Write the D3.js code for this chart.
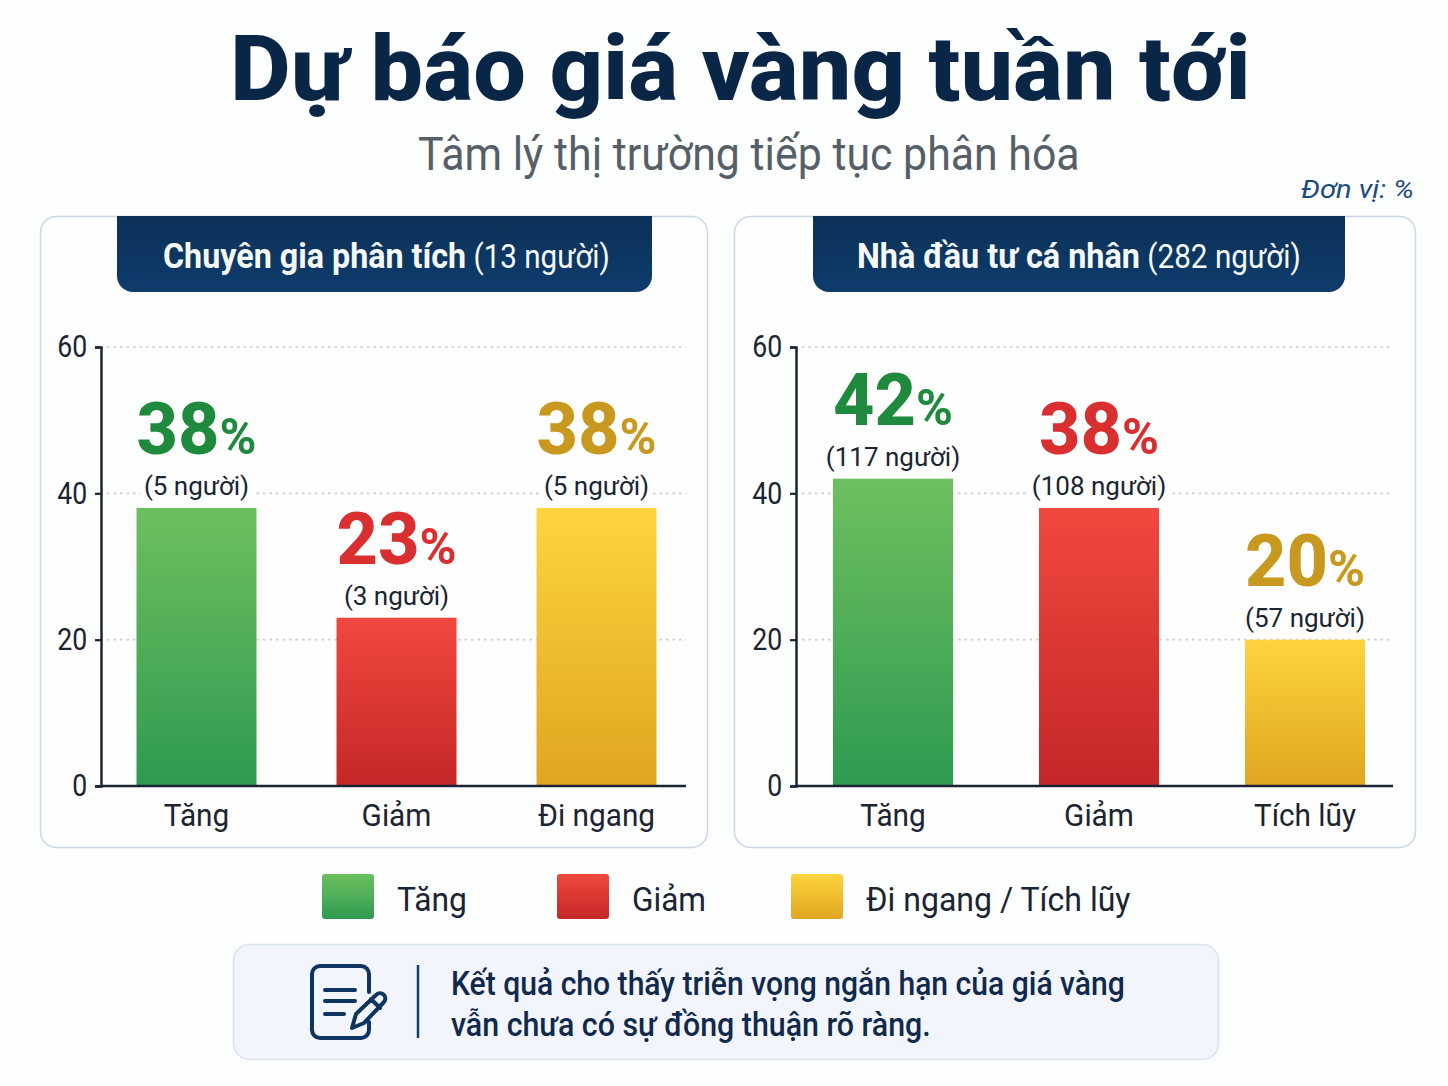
<!DOCTYPE html>
<html lang="vi">
<head>
<meta charset="utf-8">
<title>Dự báo giá vàng tuần tới</title>
<script src="https://cdn.jsdelivr.net/npm/d3@7/dist/d3.min.js"></script>
<style>
  html, body { margin: 0; padding: 0; background: #fdfefe; }
  svg { display: block; font-family: Roboto, "Noto Sans", sans-serif; }
</style>
</head>
<body>
<svg id="chart" width="1448" height="1086"></svg>
<script>
// Survey figures
const expertCategories = ["Tăng", "Giảm", "Đi ngang"];
const expertPercents = [38, 23, 38];
const expertPeople = [5, 3, 5];
const investorCategories = ["Tăng", "Giảm", "Tích lũy"];
const investorPercents = [42, 38, 20];
const investorPeople = [117, 108, 57];
const yTicks = [0, 20, 40, 60];
const legendLabels = ["Tăng", "Giảm", "Đi ngang / Tích lũy"];
const noteLines = [
  "Kết quả cho thấy triễn vọng ngắn hạn của giá vàng",
  "vẫn chưa có sự đồng thuận rõ ràng."
];

const NAVY = "#0a2647";
const INK = "#1b2431";
const tones = [
  { id: "up", top: "#6dc05f", bottom: "#2f9a50", text: "#1f8a3d" },
  { id: "down", top: "#f1483f", bottom: "#c32727", text: "#da2f30" },
  { id: "flat", top: "#fed43f", bottom: "#e0a51f", text: "#c8981f" }
];

const svg = d3.select("#chart");
const defs = svg.append("defs");

tones.forEach(t => {
  const g = defs.append("linearGradient").attr("id", "grad-" + t.id)
    .attr("x1", 0).attr("x2", 0).attr("y1", 0).attr("y2", 1);
  g.append("stop").attr("offset", "0%").attr("stop-color", t.top);
  g.append("stop").attr("offset", "100%").attr("stop-color", t.bottom);
});
const headGrad = defs.append("linearGradient").attr("id", "grad-head")
  .attr("x1", 0).attr("x2", 0).attr("y1", 0).attr("y2", 1);
headGrad.append("stop").attr("offset", "0%").attr("stop-color", "#0b3157");
headGrad.append("stop").attr("offset", "100%").attr("stop-color", "#0e3c6c");

// Squeezes a text horizontally so it spans a given width from its start point.
function fitText(sel, x, y, width) {
  const w = sel.node().getBBox().width;
  sel.attr("transform", `translate(${x},${y}) scale(${width / w},1)`);
  return sel;
}

// Heading block
fitText(svg.append("text").attr("font-size", 90).attr("font-weight", 800)
  .attr("fill", NAVY).text("Dự báo giá vàng tuần tới"), 230, 100, 1021);
fitText(svg.append("text").attr("font-size", 46).attr("fill", "#565f68")
  .text("Tâm lý thị trường tiếp tục phân hóa"), 418, 170, 662);
fitText(svg.append("text").attr("font-size", 26).attr("font-style", "italic")
  .attr("fill", "#1c4a80").text("Đơn vị: %"), 1301, 198, 113);

// Draws one rounded panel with its header tab, axes and bars.
function drawPanel(o) {
  const g = svg.append("g");

  g.append("rect").attr("x", o.box[0] + 0.5).attr("y", 216.5)
    .attr("width", o.box[1] - o.box[0]).attr("height", 631).attr("rx", 16)
    .attr("fill", "#fefefe").attr("stroke", "#cad6e6").attr("stroke-width", 1.5);

  const [hx0, hx1] = o.head;
  g.append("path")
    .attr("d", `M${hx0},216H${hx1}V276a16,16 0 0 1 -16,16H${hx0 + 16}a16,16 0 0 1 -16,-16Z`)
    .attr("fill", "url(#grad-head)");
  const title = g.append("text").attr("font-size", 35).attr("fill", "#f6f9fc");
  title.append("tspan").attr("font-weight", 700).attr("font-size", 36).text(o.title);
  title.append("tspan").attr("font-weight", 400).attr("font-size", 33).text(" " + o.count);
  fitText(title, o.titleX[0], 268, o.titleX[1] - o.titleX[0]);

  const y = d3.scaleLinear().domain([0, 60]).range([786, 347]);
  const x = d3.scaleBand().domain(o.categories).range(o.band)
    .paddingInner(o.pad).paddingOuter(o.pad / 2);

  // Dotted gridlines
  g.append("g").selectAll("line").data(yTicks.filter(d => d > 0)).join("line")
    .attr("x1", o.axisX + 6).attr("x2", o.axisEnd)
    .attr("y1", d => y(d)).attr("y2", d => y(d))
    .attr("stroke", "#c9ced4").attr("stroke-width", 1.6)
    .attr("stroke-dasharray", "2.5 4");

  // Value axis
  const axisLeft = d3.axisLeft(y).tickValues(yTicks).tickSize(6).tickPadding(8);
  const ay = g.append("g").attr("transform", `translate(${o.axisX},0)`).call(axisLeft);
  ay.select(".domain").attr("stroke", "#1a2434").attr("stroke-width", 2.5);
  ay.selectAll(".tick line").attr("stroke", "#1a2434").attr("stroke-width", 2.2);
  ay.selectAll(".tick text").attr("font-size", 31).attr("fill", INK)
    .attr("font-family", "Roboto, sans-serif")
    .attr("text-anchor", "end").attr("x", -16).attr("transform", "scale(0.86,1)");

  const rows = o.categories.map((c, i) => ({
    c, pct: o.percents[i], people: o.people[i], tone: tones[i]
  }));

  // Percentage and headcount above each bar; they sit under the bars
  // so the white halo breaking the gridlines never bites into a bar top.
  const lab = g.append("g").selectAll("g").data(rows).join("g")
    .attr("transform", d => `translate(${x(d.c) + x.bandwidth() / 2},${y(d.pct)})`)
    .attr("text-anchor", "middle");
  const big = lab.append("text").attr("y", -54).attr("fill", d => d.tone.text)
    .attr("font-weight", 800);
  big.append("tspan").attr("font-size", 72).text(d => d.pct);
  big.append("tspan").attr("font-size", 50).attr("font-weight", 700).text("%");
  lab.append("text").attr("y", -13).attr("font-size", 26).attr("fill", INK)
    .attr("stroke", "#fefefe").attr("stroke-width", 12).attr("paint-order", "stroke")
    .text(d => `(${d.people} người)`);

  // Bars
  g.append("g").selectAll("rect").data(rows).join("rect")
    .attr("x", d => x(d.c)).attr("width", x.bandwidth())
    .attr("y", d => y(d.pct)).attr("height", d => y(0) - y(d.pct))
    .attr("fill", d => `url(#grad-${d.tone.id})`);

  // Category axis
  const axisBottom = d3.axisBottom(x).tickSize(0).tickPadding(17);
  const ax = g.append("g").attr("transform", `translate(0,${y(0)})`).call(axisBottom);
  ax.select(".domain").attr("d", `M${o.axisX},0H${o.axisEnd}`)
    .attr("stroke", "#1a2434").attr("stroke-width", 2.5);
  ax.selectAll(".tick text").attr("font-size", 32).attr("fill", INK)
    .attr("font-family", "Roboto, sans-serif").attr("transform", "scale(0.93,1)");
}

drawPanel({
  box: [40, 707], head: [117, 652], titleX: [163, 610],
  title: "Chuyên gia phân tích", count: "(13 người)",
  categories: expertCategories, percents: expertPercents, people: expertPeople,
  axisX: 101, axisEnd: 686, band: [96.5, 696.5], pad: 0.4
});
drawPanel({
  box: [734, 1415], head: [813, 1345], titleX: [857, 1301],
  title: "Nhà đầu tư cá nhân", count: "(282 người)",
  categories: investorCategories, percents: investorPercents, people: investorPeople,
  axisX: 796, axisEnd: 1393, band: [790, 1408], pad: 0.417
});

// Legend
const legendX = [322, 557, 791];
const legendTextWidth = [70, 74, 265];
legendLabels.forEach((label, i) => {
  svg.append("rect").attr("x", legendX[i]).attr("y", 874).attr("width", 52).attr("height", 45)
    .attr("rx", 3).attr("fill", `url(#grad-${tones[i].id})`);
  fitText(svg.append("text").attr("font-size", 33).attr("fill", INK).text(label),
    legendX[i] + 75, 911, legendTextWidth[i]);
});

// Takeaway box
svg.append("rect").attr("x", 233.5).attr("y", 944.5).attr("width", 985).attr("height", 115)
  .attr("rx", 16).attr("fill", "#f2f6fc").attr("stroke", "#d8e3f0").attr("stroke-width", 1.5);

const icon = svg.append("g").attr("transform", "translate(310,964)")
  .attr("fill", "none").attr("stroke", "#0e3460").attr("stroke-width", 4)
  .attr("stroke-linecap", "round").attr("stroke-linejoin", "round");
icon.append("path").attr("d",
  "M59,28V10a8,8 0 0 0 -8,-8H10a8,8 0 0 0 -8,8V66a8,8 0 0 0 8,8H51a8,8 0 0 0 8,-8V58");
icon.append("path").attr("d", "M15,26H45M15,37H45M15,50H34");
icon.append("path").attr("d",
  "M42,64L46,50L66,31a5,5 0 0 1 8,7L54,59ZM61,35L70,44");

svg.append("line").attr("x1", 418).attr("x2", 418).attr("y1", 965).attr("y2", 1038)
  .attr("stroke", "#14406f").attr("stroke-width", 2.5);

const noteWidths = [674, 480];
noteLines.forEach((line, i) => {
  fitText(svg.append("text").attr("font-size", 34).attr("font-weight", 500)
    .attr("fill", "#10294d").text(line), 451, 995 + i * 41, noteWidths[i]);
});
</script>
</body>
</html>
